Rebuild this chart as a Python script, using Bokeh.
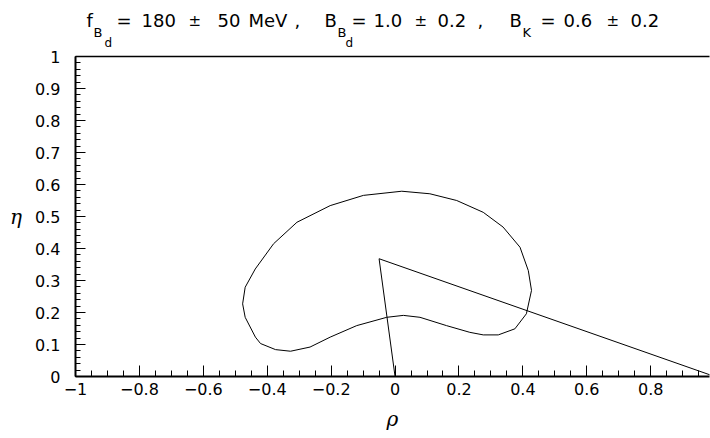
from bokeh.plotting import figure
from bokeh.models import Range1d, FixedTicker, LinearAxis, ColumnDataSource
from bokeh.layouts import column
from bokeh.core.properties import value
from bokeh.embed import file_html
from bokeh.resources import INLINE

# ---- data ----
rho_curve = [0.021, -0.099, -0.203, -0.307, -0.380, -0.4375, -0.469, -0.477, -0.469,
             -0.437, -0.421, -0.374, -0.327, -0.266, -0.203, -0.120, -0.026, 0.026,
             0.078, 0.161, 0.234, 0.276, 0.323, 0.375, 0.411, 0.427, 0.417, 0.391,
             0.338, 0.276, 0.193, 0.109, 0.021]
eta_curve = [0.579, 0.566, 0.534, 0.482, 0.415, 0.336, 0.279, 0.227, 0.185,
             0.123, 0.103, 0.084, 0.079, 0.092, 0.123, 0.159, 0.185, 0.191,
             0.185, 0.159, 0.138, 0.130, 0.130, 0.149, 0.196, 0.269, 0.331, 0.404,
             0.467, 0.513, 0.550, 0.571, 0.579]
rho_triangle = [0.0, -0.05, 1.0]
eta_triangle = [0.0, 0.368, 0.0]

x_ticks = [-1.0, -0.8, -0.6, -0.4, -0.2, 0.0, 0.2, 0.4, 0.6, 0.8]
x_tick_labels = ["\u22121", "\u22120.8", "\u22120.6", "\u22120.4", "\u22120.2", "0", "0.2", "0.4", "0.6", "0.8"]
y_ticks = [0.0, 0.1, 0.2, 0.3, 0.4, 0.5, 0.6, 0.7, 0.8, 0.9, 1.0]
y_tick_labels = ["0", "0.1", "0.2", "0.3", "0.4", "0.5", "0.6", "0.7", "0.8", "0.9", "1"]

# title pieces (main text, subscripts and sub-subscripts)
title_text = ["f", "B", "d", "=", "180", "\u00b1", "50", "MeV", ",",
              "B", "B", "d", "=", "1.0", "\u00b1", "0.2", ",",
              "B", "K", "=", "0.6", "\u00b1", "0.2"]
# layout of the title pieces (page pixels): left edge, baseline, font size
title_x = [86, 93, 104, 116, 141, 188, 217, 248, 294,
           324, 337, 345, 351, 373, 414, 437, 477,
           509, 522, 540, 563, 606, 630]
title_base = [20, 32, 42, 20, 20, 20, 20, 20, 20,
              20, 32, 42, 20, 20, 20, 20, 20,
              20, 32, 20, 20, 20, 20]
title_size = ["18px", "13px", "12px", "18px", "18px", "15px", "18px", "18px", "18px",
              "18px", "13px", "12px", "18px", "18px", "15px", "18px", "18px",
              "18px", "13px", "18px", "18px", "15px", "18px"]

FONT = "DejaVu Sans"
W = 710
TH = 48          # title strip height
PH = 438 - TH    # main plot height
BL, BR = 75, 1
BT = 56 - TH     # frame top at page y = 56
BB = PH - (376 - TH)   # frame bottom at page y = 376

# ---- title strip (its frame is aligned with the main frame: page x 75..709) ----
t = figure(width=W, height=TH, output_backend="svg", toolbar_location=None,
           x_range=Range1d(BL, W - BR), y_range=Range1d(TH, 0),
           min_border_left=BL, min_border_right=BR, min_border_top=0, min_border_bottom=0,
           x_axis_location=None, y_axis_location=None)
t.title.visible = False
t.outline_line_color = None
t.xgrid.visible = False
t.ygrid.visible = False
t.background_fill_color = "white"
t.border_fill_color = "white"
tsrc = ColumnDataSource(dict(x=title_x, y=title_base, text=title_text, size=title_size))
t.text(x="x", y="y", text="text", source=tsrc, text_font=value(FONT),
       text_font_size="size", text_color="black",
       text_align="left", text_baseline="alphabetic")

# ---- main plot ----
p = figure(width=W, height=PH, output_backend="svg", toolbar_location=None,
           x_range=Range1d(-1.0, 0.984), y_range=Range1d(0.0, 1.0),
           min_border_left=BL, min_border_right=BR, min_border_top=BT, min_border_bottom=BB)
p.title.visible = False
p.outline_line_color = None
p.xgrid.visible = False
p.ygrid.visible = False
p.background_fill_color = "white"
p.border_fill_color = "white"

xa = p.xaxis[0]
xa.ticker = FixedTicker(ticks=x_ticks,
                        minor_ticks=[round(-1 + 0.05 * i, 2) for i in range(40)])
xa.major_label_overrides = dict(zip(x_ticks, x_tick_labels))
xa.axis_label = "\u03c1"
xa.axis_label_standoff = 9
ya = p.yaxis[0]
ya.ticker = FixedTicker(ticks=y_ticks,
                        minor_ticks=[round(0.02 * i, 2) for i in range(51)])
ya.major_label_overrides = dict(zip(y_ticks, y_tick_labels))
ya.axis_label = "\u03b7"
ya.axis_label_orientation = "horizontal"
ya.axis_label_standoff = 10

for ax, tin, mtin, so in [(xa, 11, 6, 6), (ya, 10, 5, 15)]:
    ax.axis_line_width = 2
    ax.axis_line_color = "black"
    ax.major_tick_in = tin
    ax.major_tick_out = 0
    ax.minor_tick_in = mtin
    ax.minor_tick_out = 0
    ax.major_tick_line_color = "black"
    ax.minor_tick_line_color = "black"
    ax.major_tick_line_width = 1
    ax.minor_tick_line_width = 1
    ax.major_label_text_font = FONT
    ax.major_label_text_font_size = "16px"
    ax.major_label_text_color = "black"
    ax.major_label_standoff = so
    ax.axis_label_text_font = "DejaVu Serif"
    ax.axis_label_text_font_style = "italic"
    ax.axis_label_text_font_size = "20px"
    ax.axis_label_text_color = "black"

top = LinearAxis(ticker=FixedTicker(ticks=[]), axis_line_width=1.5, axis_line_color="black",
                 major_tick_in=0, major_tick_out=0, minor_tick_in=0, minor_tick_out=0)
p.add_layout(top, "above")

p.line(rho_curve, eta_curve, line_color="black", line_width=1)
p.line(rho_triangle, eta_triangle, line_color="black", line_width=1)

layout = column(t, p, spacing=0)
open("out.html", "w").write(file_html(layout, INLINE))
